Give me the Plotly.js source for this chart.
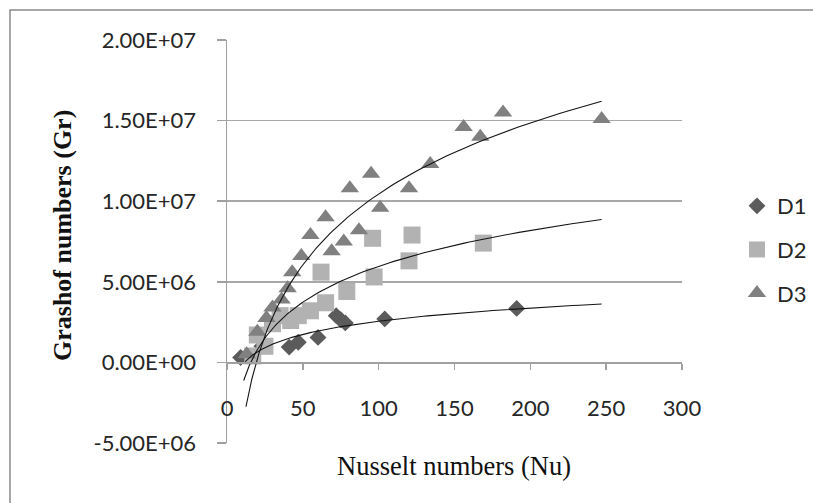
<!DOCTYPE html>
<html>
<head>
<meta charset="utf-8">
<script src="https://cdn.plot.ly/plotly-3.0.1.min.js"></script>
<style>html,body{margin:0;padding:0;background:#fff;}#chart{width:813px;height:503px;}</style>
</head>
<body>
<div id="chart"></div>
<script>
// ---- data ----
const seriesNames = ['D1', 'D2', 'D3'];
const d1X = [9, 23, 41, 47, 60, 72, 75, 78, 104, 191];
const d1Y = [0.3e6, 1.0e6, 0.95e6, 1.25e6, 1.55e6, 2.9e6, 2.65e6, 2.45e6, 2.7e6, 3.35e6];
const d2X = [17, 20, 25, 30, 35, 42, 47, 55, 62, 65, 79, 96, 97, 120, 122, 169];
const d2Y = [0.4e6, 1.7e6, 1.0e6, 2.4e6, 2.9e6, 2.6e6, 2.9e6, 3.2e6, 5.6e6, 3.7e6, 4.4e6, 7.7e6, 5.3e6, 6.3e6, 7.9e6, 7.4e6];
const d3X = [13, 20, 26, 30, 36, 40, 43, 49, 55, 65, 69, 77, 81, 87, 95, 101, 120, 134, 156, 167, 182, 247];
const d3Y = [0.5e6, 1.9e6, 2.75e6, 3.4e6, 3.9e6, 4.6e6, 5.6e6, 6.6e6, 7.9e6, 9.0e6, 6.9e6, 7.5e6, 10.8e6, 8.2e6, 11.7e6, 9.6e6, 10.8e6, 12.3e6, 14.6e6, 14.0e6, 15.5e6, 15.1e6];
const xTickVals = [0, 50, 100, 150, 200, 250, 300];
const yTickVals = [-5e6, 0, 5e6, 1e7, 1.5e7, 2e7];
const yTickText = ['-5.00E+06', '0.00E+00', '5.00E+06', '1.00E+07', '1.50E+07', '2.00E+07'];

// logarithmic trendlines y = a*ln(x) + b, coefficients and extent
const trendA = [1.18e6, 3.21e6, 6.35e6];
const trendB = [-2.88e6, -8.82e6, -18.79e6];
const trendX0 = [12, 11, 12.5];
const trendX1 = [247, 247, 247];

function trend(i) {
  const tx = [], ty = [];
  const steps = 150;
  const x0 = trendX0[i], x1 = trendX1[i];
  for (let k = 0; k <= steps; k++) {
    const x = x0 * Math.pow(x1 / x0, k / steps);
    tx.push(x); ty.push(trendA[i] * Math.log(x) + trendB[i]);
  }
  return {x: tx, y: ty, mode: 'lines', type: 'scatter', showlegend: false,
          hoverinfo: 'skip', line: {color: '#141414', width: 1.1}};
}

const tickFont = {family: 'Lato, "Liberation Sans", sans-serif', size: 22, color: '#262626'};

const traces = [
  {x: d1X, y: d1Y, name: seriesNames[0], legendgroup: 'g1', mode: 'markers', type: 'scatter',
   marker: {symbol: 'diamond', size: 13, color: '#5b5b5b'}},
  {x: d2X, y: d2Y, name: seriesNames[1], legendgroup: 'g2', mode: 'markers', type: 'scatter',
   marker: {symbol: 'square', size: 17, color: '#b2b2b2'}},
  {x: d3X, y: d3Y, name: seriesNames[2], legendgroup: 'g3', mode: 'markers', type: 'scatter',
   marker: {symbol: 'triangle-up', size: 16, color: '#808080'}},
  trend(0), trend(1), trend(2)
];

const layout = {
  width: 813, height: 503,
  margin: {l: 227, r: 131, t: 40, b: 60, pad: 0, autoexpand: false},
  paper_bgcolor: '#ffffff', plot_bgcolor: '#ffffff',
  showlegend: true,
  legend: {x: (737 - 227) / 455, xanchor: 'left', y: 0.48, yanchor: 'middle',
           font: tickFont, traceorder: 'grouped', tracegroupgap: 12,
           bgcolor: 'rgba(0,0,0,0)', itemwidth: 30},
  xaxis: {range: [0, 300], tickvals: xTickVals, ticktext: xTickVals.map(String),
          anchor: 'free', position: 0.2,
          showgrid: false, zeroline: false, showline: true, linecolor: '#a0a0a0', linewidth: 1.5,
          ticks: 'outside', ticklen: 6, tickwidth: 1.5, tickcolor: '#a0a0a0',
          ticklabelstandoff: 20, tickfont: tickFont},
  yaxis: {range: [-5e6, 2e7], tickvals: yTickVals, ticktext: yTickText,
          showgrid: true, gridcolor: '#a8a8a8', gridwidth: 1.5,
          zeroline: false, showline: true, linecolor: '#a0a0a0', linewidth: 1.5,
          ticks: 'outside', ticklen: 9, tickwidth: 1.5, tickcolor: '#a0a0a0',
          ticklabelstandoff: 16, tickfont: tickFont},
  annotations: [
    {text: 'Nusselt numbers (Nu)', xref: 'paper', yref: 'paper', x: (454 - 227) / 455, y: (443 - 466) / 403,
     xanchor: 'center', yanchor: 'middle', showarrow: false,
     font: {family: '"Liberation Serif", "Times New Roman", serif', size: 26.5, color: '#111'}},
    {text: '<b>Grashof numbers (Gr)</b>', xref: 'paper', yref: 'paper', x: (62 - 227) / 455, y: (443 - 236) / 403,
     xanchor: 'center', yanchor: 'middle', showarrow: false, textangle: -90,
     font: {family: '"Liberation Serif", "Times New Roman", serif', size: 26, color: '#111'}}
  ],
  shapes: [
    {type: 'rect', xref: 'paper', yref: 'paper', x0: (10 - 227) / 455, x1: (840 - 227) / 455,
     y0: (443 - 530) / 403, y1: (443 - 10) / 403, line: {color: '#8a8a8a', width: 1.5}, layer: 'below'}
  ]
};

Plotly.newPlot('chart', traces, layout, {displayModeBar: false, staticPlot: true});
</script>
</body>
</html>
